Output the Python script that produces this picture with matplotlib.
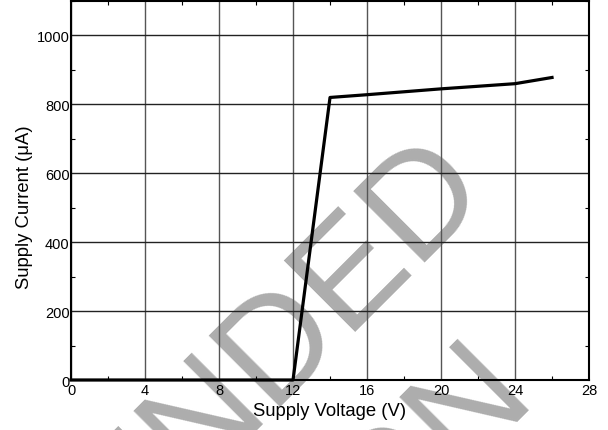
import matplotlib
matplotlib.use("Agg")
import matplotlib.pyplot as plt
import numpy as np

plt.rcParams['font.family'] = ['Liberation Sans', 'DejaVu Sans']

# supply voltage (V) vs supply current (uA)
volts = [0, 12, 14, 16, 20, 24, 26]
current = [0, 0, 820, 828, 845, 860, 878]

xticks = [0, 4, 8, 12, 16, 20, 24, 28]
yticks = [0, 200, 400, 600, 800, 1000]

fig = plt.figure(figsize=(6.08, 4.31), dpi=100)
ax = fig.add_axes([0.1168, 0.116, 0.852, 0.8794])
ax.set_facecolor('none')

# watermark behind the plot
wm = '#adadad'
fig.text(492/608, 1-196/431, "NOT RECOMMENDED", color=wm, fontsize=106,
         rotation=45, rotation_mode='anchor', ha='right', va='baseline', zorder=-1)
fig.text(538/608, 1-402/431, "FOR NEW DESIGN", color=wm, fontsize=106,
         rotation=45, rotation_mode='anchor', ha='right', va='baseline', zorder=-1)

ax.plot(volts, current, color='black', lw=2.3, clip_on=False, zorder=5,
        solid_joinstyle='round')

ax.set_xlim(0, 28)
ax.set_ylim(0, 1100)
ax.set_xticks(xticks)
ax.set_yticks(yticks)
ax.set_xticks(np.arange(2, 28, 4), minor=True)
ax.set_yticks(np.arange(100, 1101, 200), minor=True)
ax.tick_params(which='major', length=0, labelsize=10.5, pad=2)
ax.tick_params(axis='y', which='major', pad=1)
ax.tick_params(which='minor', direction='in', length=3, width=0.8,
               top=True, right=True)

ax.xaxis.grid(True, color='#555555', lw=1)
ax.yaxis.grid(True, color='#222222', lw=1)

for s in ax.spines.values():
    s.set_linewidth(1.5)
    s.set_zorder(4)

ax.set_xlabel('Supply Voltage (V)', fontsize=13.3, labelpad=4)
ax.set_ylabel('Supply Current (\u03bcA)', fontsize=13.3)
ax.yaxis.set_label_coords(-0.073, 0.459)

fig.savefig('out.png', dpi=100)
